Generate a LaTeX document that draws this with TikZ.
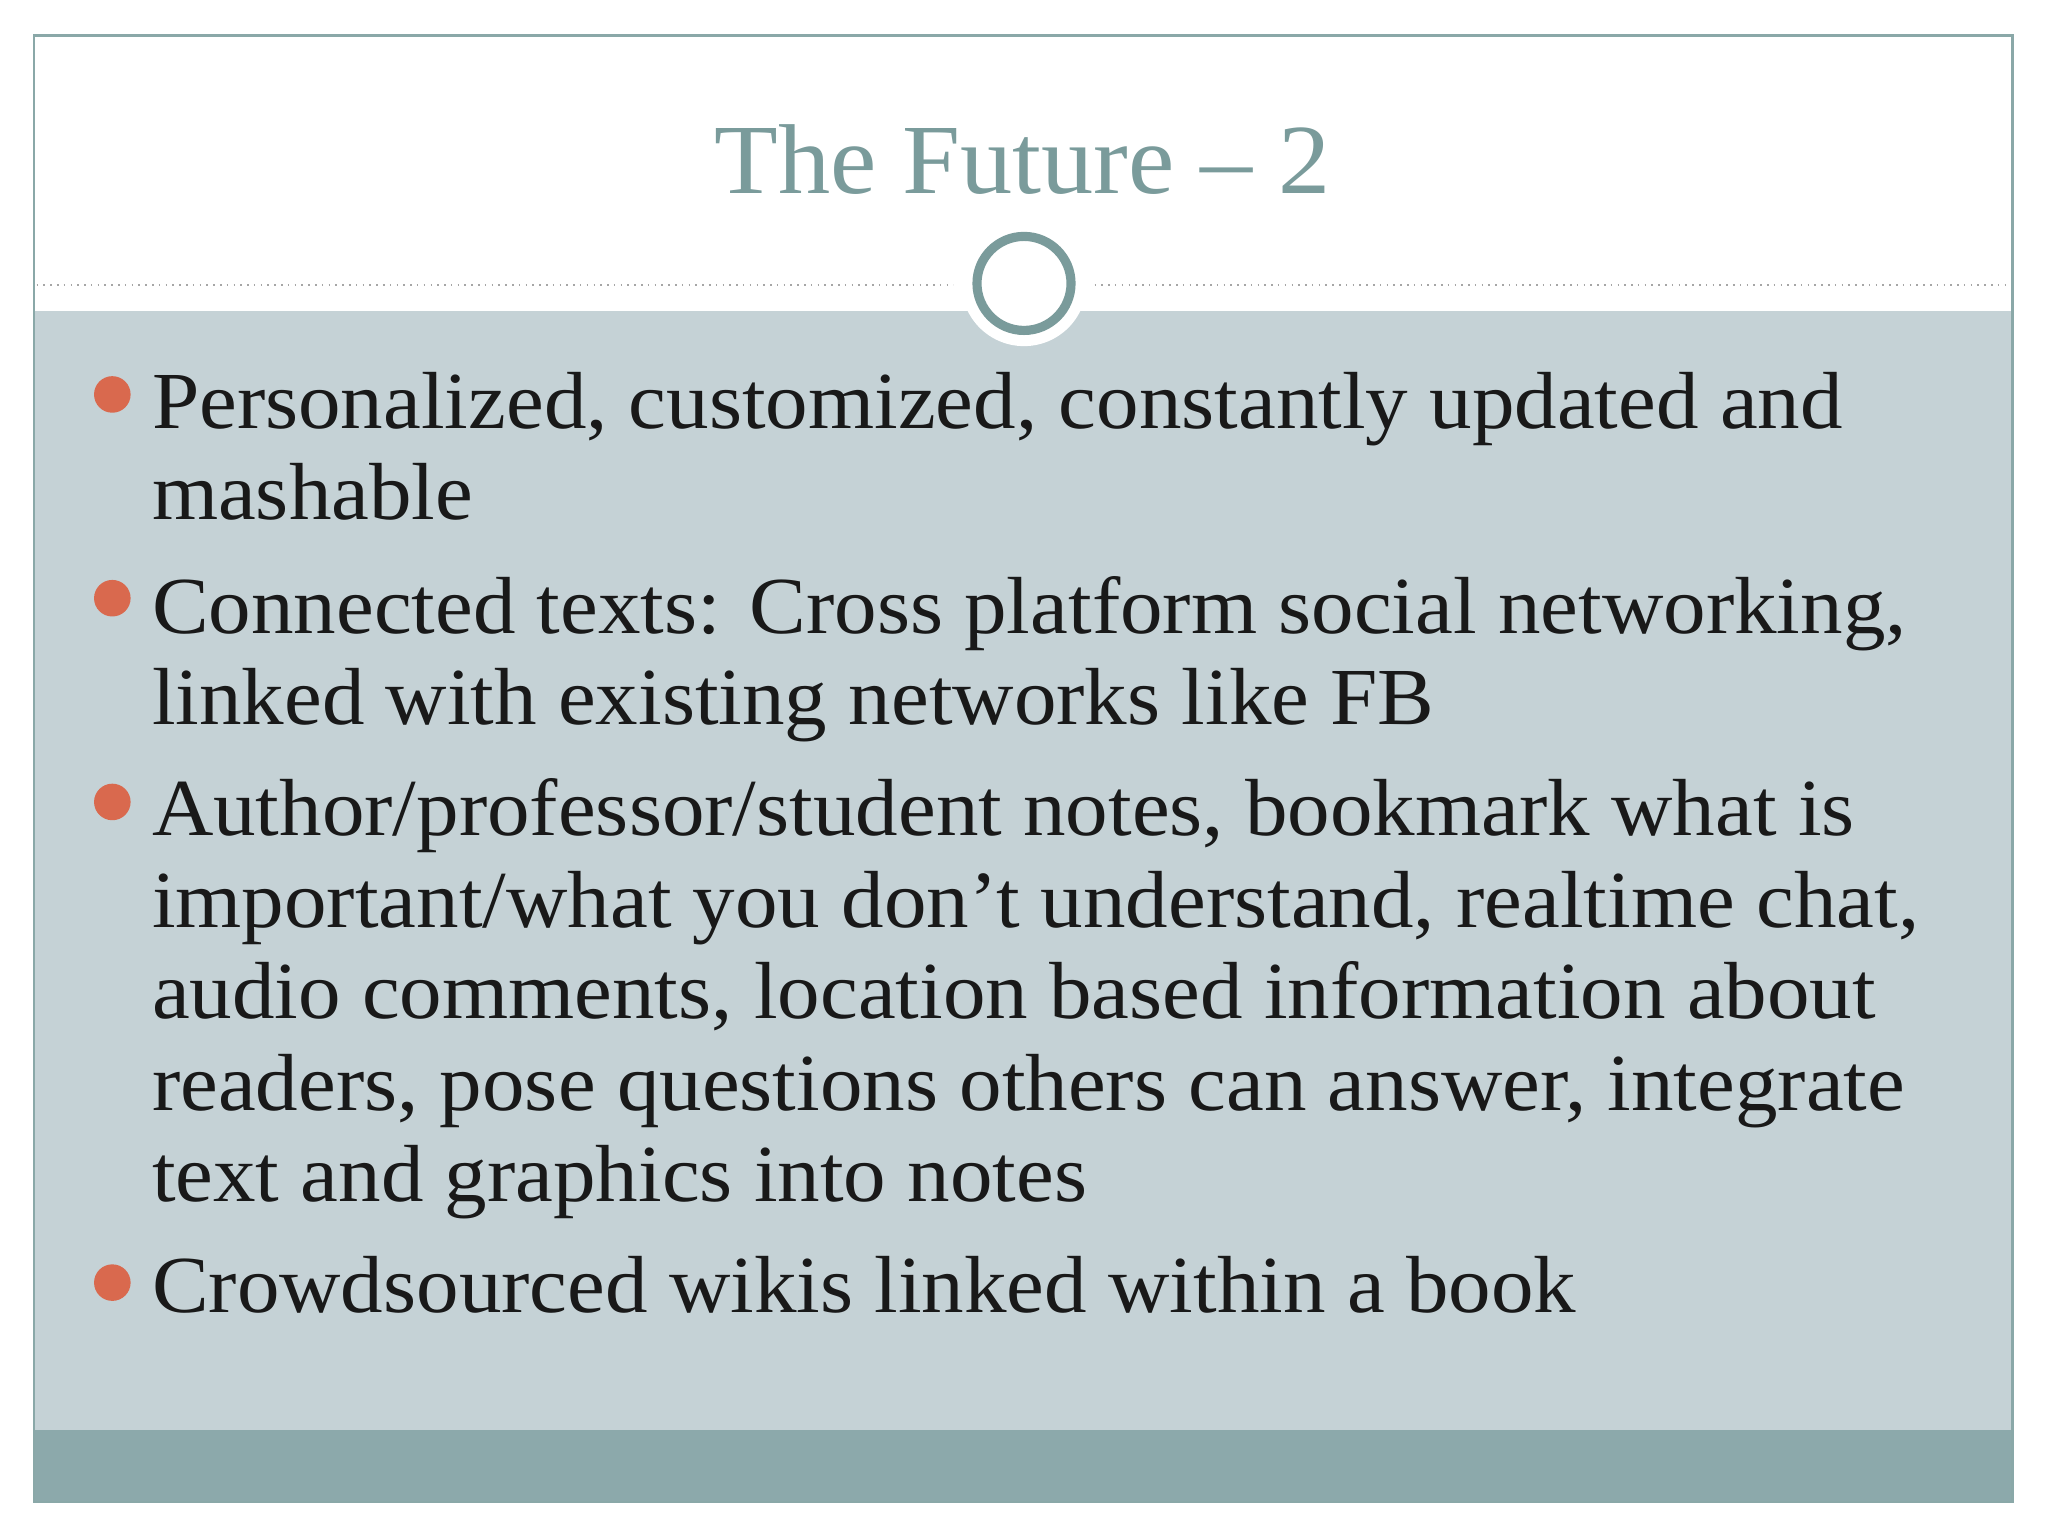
\documentclass[tikz,border=0pt]{standalone}
\usepackage{fontspec}
\setmainfont{Liberation Serif}[FakeStretch=1.05]
\definecolor{frame}{HTML}{8AA8A8}
\definecolor{bodybg}{HTML}{C5D2D6}
\definecolor{band}{HTML}{8CA9AB}
\definecolor{titlec}{HTML}{7A9B9B}
\definecolor{dotc}{HTML}{D9694E}
\tikzset{txt/.style={anchor=base west,inner sep=0pt,font=\fontsize{31}{36}\selectfont,text=black!90},
 bul/.style={circle,fill=dotc,inner sep=0pt,minimum size=14pt}}
\begin{document}
\begin{tikzpicture}[x=0.5pt,y=-0.5pt]
\useasboundingbox (0,0) rectangle (1568,1176);
\fill[white] (0,0) rectangle (1568,1176);
\fill[bodybg] (26,238) rectangle (1541,1095);
\fill[band] (26,1095) rectangle (1541,1150);
\draw[frame,line width=1pt] (26,27) rectangle (1541,1150);
\draw[gray!70,dotted,line width=0.6pt] (28,218) -- (730,218);
\draw[gray!70,dotted,line width=0.6pt] (838,218) -- (1539,218);
\fill[white] (784,217) circle (48);
\draw[titlec,line width=3.5pt] (784,217) circle (36);
\node[anchor=base,inner sep=0pt,text=titlec,font=\fontsize{38}{44}\selectfont] (title) at (783,148) {The Future -- 2};
\node[bul] (b1) at (86,302) {};
\node[bul] (b2) at (86,458) {};
\node[bul] (b3) at (86,614) {};
\node[bul] (b4) at (86,982) {};
\node[txt] (t1) at (116,328) {Personalized, customized, constantly updated and};
\node[txt] (t1b) at (116,398) {mashable};
\node[txt] (t2) at (116,485) {Connected texts: Cross platform social networking,};
\node[txt] (t2b) at (116,555) {linked with existing networks like FB};
\node[txt] (t3) at (116,640) {Author/professor/student notes, bookmark what is};
\node[txt] (t3b) at (116,710) {important/what you don’t understand, realtime chat,};
\node[txt] (t3c) at (116,780) {audio comments, location based information about};
\node[txt] (t3d) at (116,850) {readers, pose questions others can answer, integrate};
\node[txt] (t3e) at (116,920) {text and graphics into notes};
\node[txt] (t4) at (116,1005) {Crowdsourced wikis linked within a book};
\end{tikzpicture}
\end{document}
